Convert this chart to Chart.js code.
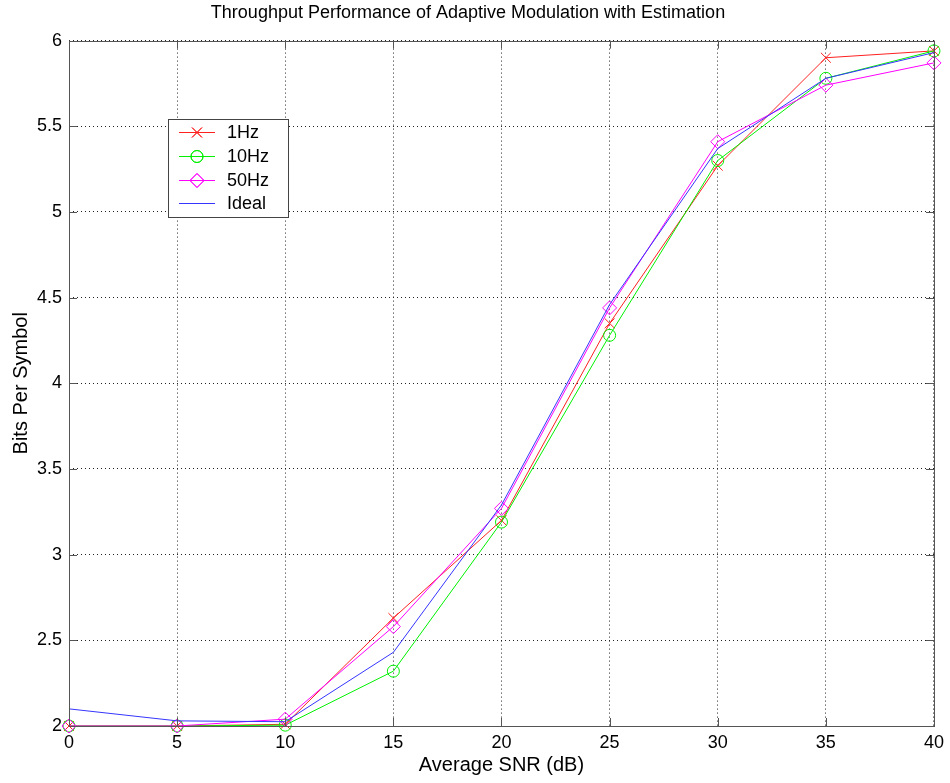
<!DOCTYPE html>
<html>
<head>
<meta charset="utf-8">
<script src="https://cdn.jsdelivr.net/npm/chart.js@4/dist/chart.umd.min.js"></script>
<style>
  html, body { margin: 0; padding: 0; background: #fff; }
  #wrap { width: 950px; height: 783px; }
</style>
</head>
<body>
<div id="wrap"><canvas id="chart" width="950" height="783"></canvas></div>
<script>
const snr = [0, 5, 10, 15, 20, 25, 30, 35, 40];
const hz1 = [2.0, 2.0, 2.01, 2.63, 3.20, 4.35, 5.27, 5.90, 5.94];
const hz10 = [2.0, 2.0, 2.005, 2.32, 3.19, 4.28, 5.30, 5.78, 5.94];
const hz50 = [2.0, 2.0, 2.04, 2.58, 3.27, 4.44, 5.41, 5.74, 5.87];
const ideal = [2.10, 2.03, 2.025, 2.43, 3.29, 4.46, 5.37, 5.78, 5.93];
const xTickLabels = ['0', '5', '10', '15', '20', '25', '30', '35', '40'];
const yTickLabels = ['2', '2.5', '3', '3.5', '4', '4.5', '5', '5.5', '6'];

const FONT = 'Arial, "Liberation Sans", Helvetica, sans-serif';

function pts(ys) {
	return ys.map((y, i) => ({x: snr[i], y: y}));
}

// box round the plot with matlab style inward ticks
const boxPlugin = {
	id: 'box',
	afterDatasetsDraw(chart) {
		const {ctx, chartArea: a, scales} = chart;
		const tl = 8;
		ctx.save();
		ctx.strokeStyle = '#555';
		ctx.lineWidth = 1;
		ctx.beginPath();
		scales.x.ticks.forEach(t => {
			const px = Math.round(scales.x.getPixelForValue(t.value)) + 0.5;
			ctx.moveTo(px, a.bottom);
			ctx.lineTo(px, a.bottom - tl);
			ctx.moveTo(px, a.top);
			ctx.lineTo(px, a.top + tl);
		});
		scales.y.ticks.forEach(t => {
			const py = Math.round(scales.y.getPixelForValue(t.value)) + 0.5;
			ctx.moveTo(a.left, py);
			ctx.lineTo(a.left + tl, py);
			ctx.moveTo(a.right, py);
			ctx.lineTo(a.right - tl, py);
		});
		ctx.stroke();
		ctx.strokeRect(Math.round(a.left) + 0.5, Math.round(a.top) + 0.5,
			Math.round(a.right - a.left), Math.round(a.bottom - a.top));
		ctx.restore();
	},
};

// legend box drawn inside the axes
const legendPlugin = {
	id: 'innerLegend',
	afterDraw(chart) {
		const {ctx} = chart;
		const bx = 168, by = 119, bw = 120, bh = 98;
		const rows = [132, 156, 180, 203];
		ctx.save();
		ctx.fillStyle = '#fff';
		ctx.fillRect(bx, by, bw, bh);
		ctx.strokeStyle = '#444';
		ctx.lineWidth = 1;
		ctx.strokeRect(bx + 0.5, by + 0.5, bw, bh);
		ctx.font = '18px ' + FONT;
		ctx.textBaseline = 'middle';
		ctx.textAlign = 'left';
		const dsList = chart.data.datasets.slice().sort((p, q) => p.legendIndex - q.legendIndex);
		dsList.forEach((ds, i) => {
			const y = rows[i] + 0.5;
			ctx.strokeStyle = ds.borderColor;
			ctx.lineWidth = 1;
			ctx.beginPath();
			ctx.moveTo(179, y);
			ctx.lineTo(215, y);
			ctx.stroke();
			if (ds.pointRadius > 0 && Chart.helpers && Chart.helpers.drawPoint) {
				ctx.fillStyle = 'rgba(0,0,0,0)';
				Chart.helpers.drawPoint(ctx, {pointStyle: ds.pointStyle, radius: ds.pointRadius, rotation: 0, borderWidth: 1}, 197, y);
				ctx.stroke();
			}
			ctx.fillStyle = '#000';
			ctx.fillText(ds.label, 227, rows[i] + 1);
		});
		ctx.restore();
	},
};

const common = {
	borderWidth: 1,
	fill: false,
	tension: 0,
	clip: false,
	backgroundColor: 'rgba(0,0,0,0)',
	pointBorderWidth: 1,
	pointBackgroundColor: 'rgba(0,0,0,0)',
};

new Chart(document.getElementById('chart'), {
	type: 'line',
	data: {
		datasets: [
			Object.assign({}, common, {
				label: '1Hz', data: pts(hz1), borderColor: '#ff2020', pointBorderColor: '#ff2020',
				pointStyle: 'crossRot', pointRadius: 7, order: 3, legendIndex: 0,
			}),
			Object.assign({}, common, {
				label: '10Hz', data: pts(hz10), borderColor: '#00f000', pointBorderColor: '#00f000',
				pointStyle: 'circle', pointRadius: 6, order: 2, legendIndex: 1,
			}),
			Object.assign({}, common, {
				label: '50Hz', data: pts(hz50), borderColor: '#ff00ff', pointBorderColor: '#ff00ff',
				pointStyle: 'rectRot', pointRadius: 7, order: 1, legendIndex: 2,
			}),
			Object.assign({}, common, {
				label: 'Ideal', data: pts(ideal), borderColor: '#3535ff',
				pointRadius: 0, order: 0, legendIndex: 3,
			}),
		],
	},
	options: {
		responsive: false,
		animation: false,
		events: [],
		layout: {padding: {left: 0, right: 14, top: 0, bottom: 0}},
		scales: {
			x: {
				type: 'linear',
				min: 0,
				max: 40,
				afterFit: s => { s.height = 57; },
				grid: {color: '#222', lineWidth: 1, drawTicks: false},
				border: {display: false, dash: [1, 3]},
				ticks: {
					stepSize: 5,
					padding: 6,
					color: '#000',
					font: {family: FONT, size: 18},
					maxRotation: 0,
					callback: (v, i) => xTickLabels[i],
				},
				title: {
					display: true,
					text: 'Average SNR (dB)',
					color: '#000',
					font: {family: FONT, size: 20},
					padding: {top: 0, bottom: 6},
				},
			},
			y: {
				type: 'linear',
				min: 2,
				max: 6,
				afterFit: s => { s.width = 69; },
				grid: {color: '#222', lineWidth: 1, drawTicks: false},
				border: {display: false, dash: [1, 3]},
				ticks: {
					stepSize: 0.5,
					padding: 7,
					color: '#000',
					font: {family: FONT, size: 18},
					callback: (v, i) => yTickLabels[i],
				},
				title: {
					display: true,
					text: 'Bits Per Symbol',
					color: '#000',
					font: {family: FONT, size: 20},
					padding: {top: 9, bottom: 0},
				},
			},
		},
		plugins: {
			legend: {display: false},
			tooltip: {enabled: false},
			title: {
				display: true,
				text: 'Throughput Performance of Adaptive Modulation with Estimation',
				color: '#000',
				font: {family: FONT, size: 18, weight: 'normal'},
				padding: {top: 2, bottom: 17},
			},
		},
	},
	plugins: [boxPlugin, legendPlugin],
});
</script>
</body>
</html>
